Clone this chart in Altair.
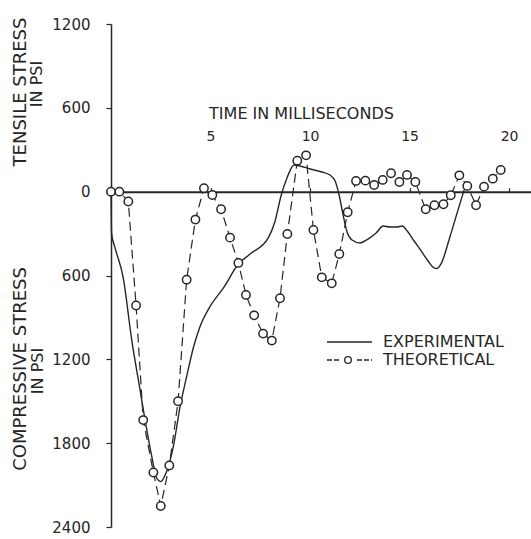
import altair as alt
import pandas as pd

# Theoretical stress (circles joined by dashed line), time in ms, stress in psi
theo_t = [0.0, 0.42, 0.87, 1.26, 1.62, 2.13, 2.50, 2.93, 3.37, 3.80, 4.24, 4.67,
          5.09, 5.53, 5.98, 6.40, 6.78, 7.19, 7.64, 8.08, 8.49, 8.86, 9.36, 9.80,
          10.17, 10.59, 11.09, 11.47, 11.89, 12.31, 12.78, 13.22, 13.65, 14.07,
          14.49, 14.87, 15.29, 15.81, 16.25, 16.70, 17.07, 17.50, 17.90, 18.34,
          18.74, 19.18, 19.58]
theo_v = [0, 0, -70, -815, -1635, -2010, -2250, -1960, -1500, -630, -200, 25,
          -24, -126, -329, -510, -739, -885, -1016, -1066, -763, -303, 222, 260,
          -274, -613, -656, -446, -147, 77, 79, 48, 84, 132,
          69, 120, 69, -126, -97, -90, -26, 117, 41, -97,
          36, 93, 155]

# Experimental stress (smooth solid curve)
exp_t = [0.0, 0.03, 0.2, 0.62, 1.04, 1.46, 1.71, 2.05, 2.30, 2.50, 2.76, 3.13,
         3.47, 3.80, 4.14, 4.47, 4.97, 5.64, 6.40, 7.0, 7.9, 8.23, 8.54, 8.84,
         9.20, 9.50, 10.0, 10.60, 11.0, 11.26, 11.46, 11.66, 11.86, 12.11,
         12.51, 12.91, 13.32, 13.67, 14.02, 14.37, 14.62, 14.92, 15.23, 15.58,
         15.93, 16.23, 16.38, 16.58, 17.04, 17.39, 17.74]
exp_v = [0, -300, -400, -620, -1061, -1419, -1634, -1897, -2051, -2075, -2016, -1825,
         -1539, -1324, -1115, -966, -823, -691, -518, -445, -331, -217, -31, 98,
         191, 184, 162, 141, 119, 77, -24, -167, -289, -346,
         -367, -339, -296, -246, -253, -253, -246, -289, -353, -424,
         -496, -546, -550, -517, -317, -152, 12]

y_ticks = [1200, 600, 0, -600, -1200, -1800, -2400]
x_ticks = [5, 10, 15, 20]

theo_df = pd.DataFrame({"t": theo_t, "v": theo_v})
exp_df = pd.DataFrame({"t": exp_t, "v": exp_v})

ink = "#262626"
font = "DejaVu Sans"
W, H = 420, 503
L, T = 111, 24

xscale = alt.Scale(domain=[0, 21.1], nice=False, zero=False)
yscale = alt.Scale(domain=[-2400, 1200], nice=False, zero=False)

x_enc = alt.X(
    "t:Q", scale=xscale,
    axis=alt.Axis(
        orient="top", offset=-167.7, values=x_ticks, grid=False,
        domainColor=ink, domainWidth=2, tickColor=ink, tickSize=4, tickWidth=1.2,
        labelFont=font, labelFontSize=14, labelColor=ink, labelPadding=44,
        labelFlush=False,
        title="TIME IN MILLISECONDS", titleFont=font, titleFontSize=16,
        titleFontWeight="normal", titleColor=ink, titlePadding=8,
        titleX=190, titleAlign="center",
    ),
)
y_enc = alt.Y(
    "v:Q", scale=yscale,
    axis=alt.Axis(
        values=y_ticks, grid=False, labelExpr="'' + abs(datum.value)",
        domainColor=ink, domainWidth=1.5, tickColor=ink, tickSize=5, tickWidth=1.2,
        labelFont=font, labelFontSize=15, labelColor=ink, labelPadding=16,
        title=None,
    ),
)

exp_line = alt.Chart(exp_df).mark_line(
    color=ink, strokeWidth=1.4, interpolate="monotone"
).encode(x=x_enc, y=y_enc)

theo_line = alt.Chart(theo_df).mark_line(
    color=ink, strokeWidth=1.2, strokeDash=[9, 5]
).encode(x=x_enc, y=y_enc)

theo_pts = alt.Chart(theo_df).mark_point(
    shape="circle", size=70, filled=True, fill="white", fillOpacity=1,
    stroke=ink, strokeWidth=1.5, opacity=1
).encode(x=x_enc, y=y_enc)

one = alt.Data(values=[{}])


def label(text, px, py, size, angle=0, align="center"):
    return alt.Chart(one).mark_text(
        text=text, font=font, fontSize=size, color=ink, angle=angle,
        align=align, baseline="middle"
    ).encode(x=alt.value(px - L), y=alt.value(py - T))


titles = [
    label("TENSILE STRESS", 21, 92, 18, angle=270),
    label("IN PSI", 37, 84, 16, angle=270),
    label("COMPRESSIVE STRESS", 21, 369, 18, angle=270),
    label("IN PSI", 38, 371, 16, angle=270),
    label("EXPERIMENTAL", 383, 342, 16, align="left"),
    label("THEORETICAL", 383, 360, 16, align="left"),
]

leg_solid = alt.Chart(one).mark_rule(color=ink, strokeWidth=1.6).encode(
    x=alt.value(327 - L), x2=alt.value(372 - L), y=alt.value(342 - T))
leg_dash1 = alt.Chart(one).mark_rule(color=ink, strokeWidth=1.3, strokeDash=[5, 2]).encode(
    x=alt.value(327 - L), x2=alt.value(339 - L), y=alt.value(360 - T))
leg_dash2 = alt.Chart(one).mark_rule(color=ink, strokeWidth=1.3, strokeDash=[5, 2]).encode(
    x=alt.value(357 - L), x2=alt.value(372 - L), y=alt.value(360 - T))
leg_circ = alt.Chart(one).mark_point(
    shape="circle", size=45, filled=True, fill="white", stroke=ink,
    strokeWidth=1.3, opacity=1
).encode(x=alt.value(348 - L), y=alt.value(360 - T))

chart = alt.layer(
    exp_line, theo_line, theo_pts, leg_solid, leg_dash1, leg_dash2, leg_circ, *titles
).properties(
    width=W, height=H,
    autosize=alt.AutoSizeParams(type="none"),
    padding={"left": L, "top": T, "right": 0, "bottom": 12},
    background="white",
).configure_view(stroke=None)

chart.save("out.html", embed_options={"renderer": "svg", "actions": False})
